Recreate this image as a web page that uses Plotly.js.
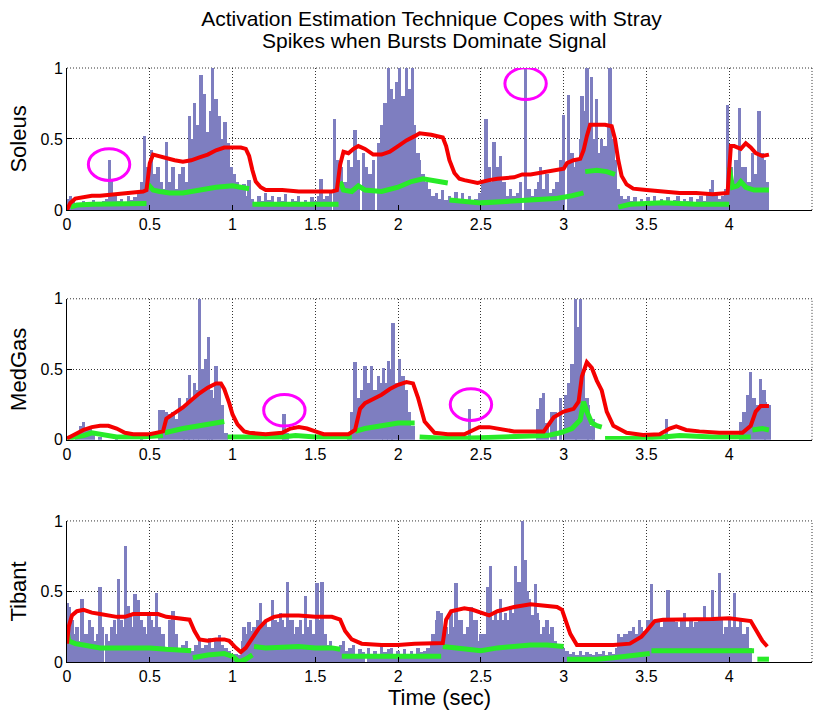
<!DOCTYPE html>
<html><head><meta charset="utf-8">
<script src="https://cdn.plot.ly/plotly-3.0.1.min.js"></script>
<style>html,body{margin:0;padding:0;background:#fff}#chart{width:823px;height:713px}</style>
</head><body><div id="chart"></div>
<script>
// ---------- DATA ----------
const titleLines = ['Activation Estimation Technique Copes with Stray', 'Spikes when Bursts Dominate Signal'];
const panelNames = ['Soleus', 'MedGas', 'Tibant'];
const xTitle = 'Time (sec)';
const xTicks = [0, 0.5, 1, 1.5, 2, 2.5, 3, 3.5, 4, 4.5];
const yTicks = [0, 0.5, 1];

// EMG spike bars [time, normalized amplitude]
const soleusBars = [[0.00,0.08],[0.02,0.1],[0.04,0.06],[0.06,0.05],[0.08,0.04],[0.10,0.06],[0.12,0.04],[0.14,0.05],[0.16,0.07],[0.18,0.04],[0.20,0.05],[0.22,0.06],[0.24,0.08],[0.255,0.35],[0.27,0.22],[0.29,0.1],[0.31,0.06],[0.33,0.08],[0.35,0.05],[0.37,0.1],[0.39,0.07],[0.41,0.09],[0.43,0.12],[0.45,0.2],[0.47,0.52],[0.49,0.3],[0.51,0.42],[0.53,0.25],[0.55,0.3],[0.57,0.2],[0.59,0.15],[0.60,0.48],[0.62,0.2],[0.64,0.3],[0.66,0.15],[0.68,0.25],[0.70,0.3],[0.72,0.2],[0.74,0.66],[0.76,0.5],[0.77,0.75],[0.79,0.6],[0.81,0.95],[0.83,0.82],[0.85,0.55],[0.87,0.7],[0.88,1.0],[0.90,0.78],[0.92,0.66],[0.94,0.5],[0.955,0.62],[0.975,0.47],[0.99,0.3],[1.01,0.25],[1.03,0.2],[1.05,0.15],[1.07,0.18],[1.09,0.1],[1.10,0.21],[1.12,0.08],[1.14,0.05],[1.16,0.1],[1.18,0.06],[1.20,0.12],[1.22,0.07],[1.24,0.1],[1.26,0.05],[1.28,0.09],[1.30,0.06],[1.32,0.11],[1.34,0.05],[1.36,0.08],[1.38,0.06],[1.40,0.1],[1.42,0.05],[1.44,0.07],[1.46,0.05],[1.48,0.09],[1.50,0.06],[1.52,0.1],[1.535,0.22],[1.55,0.08],[1.57,0.1],[1.59,0.12],[1.615,0.64],[1.63,0.35],[1.65,0.25],[1.66,0.3],[1.68,0.2],[1.70,0.35],[1.72,0.3],[1.74,0.56],[1.76,0.35],[1.79,0.4],[1.81,0.3],[1.83,0.25],[1.85,0.35],[1.88,0.47],[1.90,0.6],[1.92,0.75],[1.94,1.0],[1.96,0.85],[1.97,0.78],[1.99,0.9],[2.01,1.0],[2.03,0.8],[2.05,1.0],[2.07,0.85],[2.085,1.0],[2.10,0.6],[2.12,0.4],[2.13,0.35],[2.15,0.25],[2.17,0.2],[2.19,0.15],[2.21,0.1],[2.23,0.12],[2.25,0.08],[2.27,0.14],[2.29,0.07],[2.31,0.1],[2.33,0.06],[2.35,0.13],[2.37,0.08],[2.39,0.12],[2.41,0.06],[2.43,0.1],[2.45,0.05],[2.47,0.08],[2.49,0.12],[2.51,0.2],[2.53,0.64],[2.55,0.3],[2.57,0.2],[2.58,0.48],[2.60,0.3],[2.62,0.38],[2.64,0.2],[2.66,0.1],[2.68,0.15],[2.70,0.1],[2.72,0.12],[2.74,0.2],[2.77,1.0],[2.79,0.15],[2.81,0.1],[2.83,0.15],[2.85,0.2],[2.86,0.3],[2.88,0.15],[2.90,0.25],[2.92,0.12],[2.94,0.15],[2.96,0.2],[2.98,0.35],[3.00,0.67],[3.03,0.81],[3.05,0.4],[3.07,0.3],[3.08,0.35],[3.10,0.5],[3.11,0.8],[3.13,0.7],[3.14,1.0],[3.16,0.6],[3.17,0.94],[3.19,0.5],[3.20,0.78],[3.22,0.4],[3.23,0.5],[3.25,0.45],[3.27,0.6],[3.28,1.0],[3.30,0.5],[3.31,0.35],[3.33,0.15],[3.35,0.1],[3.37,0.08],[3.39,0.1],[3.41,0.06],[3.43,0.09],[3.45,0.05],[3.47,0.08],[3.49,0.05],[3.51,0.09],[3.53,0.06],[3.55,0.1],[3.57,0.05],[3.59,0.08],[3.61,0.06],[3.63,0.09],[3.65,0.05],[3.67,0.07],[3.69,0.1],[3.71,0.05],[3.73,0.08],[3.75,0.06],[3.77,0.09],[3.79,0.05],[3.81,0.08],[3.83,0.1],[3.85,0.06],[3.87,0.12],[3.89,0.15],[3.90,0.21],[3.92,0.12],[3.94,0.08],[3.96,0.1],[3.98,0.15],[3.99,0.74],[4.01,0.3],[4.02,0.2],[4.04,0.35],[4.06,0.72],[4.08,0.3],[4.10,0.3],[4.12,0.2],[4.14,0.4],[4.16,0.25],[4.18,0.7],[4.20,0.4],[4.21,0.35],[4.23,0.2]];

const medgasBars = [[0.06,0.05],[0.08,0.1],[0.10,0.13],[0.12,0.08],[0.14,0.1],[0.16,0.04],[0.20,0.02],[0.30,0.01],[0.45,0.02],[0.56,0.21],[0.58,0.21],[0.60,0.2],[0.62,0.18],[0.64,0.2],[0.66,0.15],[0.68,0.3],[0.70,0.22],[0.71,0.25],[0.73,0.3],[0.74,0.46],[0.76,0.3],[0.77,0.4],[0.79,0.35],[0.80,1.0],[0.82,0.5],[0.84,0.57],[0.855,0.73],[0.87,0.35],[0.88,0.3],[0.90,0.52],[0.92,0.4],[0.94,0.25],[0.96,0.05],[1.31,0.18],[1.33,0.05],[1.70,0.05],[1.72,0.2],[1.74,0.55],[1.76,0.3],[1.78,0.35],[1.80,0.52],[1.82,0.4],[1.84,0.52],[1.86,0.35],[1.88,0.45],[1.90,0.4],[1.91,0.51],[1.93,0.4],[1.94,0.56],[1.96,0.5],[1.97,0.83],[1.99,0.4],[2.01,0.57],[2.03,0.45],[2.05,0.35],[2.07,0.2],[2.09,0.1],[2.43,0.22],[2.84,0.22],[2.86,0.3],[2.88,0.33],[2.90,0.12],[2.93,0.2],[2.95,0.2],[2.98,0.3],[3.01,0.32],[3.03,0.4],[3.05,0.54],[3.07,1.0],[3.08,0.8],[3.10,1.0],[3.12,0.5],[3.14,0.3],[3.15,0.25],[3.17,0.1],[3.18,0.15],[3.62,0.15],[4.07,0.13],[4.09,0.2],[4.11,0.32],[4.13,0.48],[4.15,0.3],[4.17,0.25],[4.19,0.43],[4.21,0.35],[4.22,0.27],[4.24,0.25]];

const tibantBars = [[0.0,0.42],[0.015,0.39],[0.03,0.3],[0.045,0.2],[0.06,0.25],[0.075,0.15],[0.09,0.45],[0.105,0.2],[0.12,0.2],[0.135,0.3],[0.155,0.25],[0.17,0.15],[0.185,0.2],[0.2,0.53],[0.215,0.25],[0.24,0.2],[0.255,0.15],[0.27,0.25],[0.285,0.3],[0.3,0.2],[0.31,0.59],[0.33,0.3],[0.34,0.25],[0.355,0.82],[0.37,0.4],[0.38,0.35],[0.395,0.25],[0.41,0.48],[0.43,0.44],[0.45,0.3],[0.465,0.25],[0.48,0.2],[0.495,0.35],[0.51,0.3],[0.525,0.25],[0.54,0.49],[0.56,0.25],[0.58,0.2],[0.6,0.1],[0.62,0.3],[0.64,0.36],[0.66,0.2],[0.68,0.1],[0.7,0.12],[0.72,0.15],[0.74,0.1],[0.76,0.08],[0.78,0.12],[0.8,0.15],[0.82,0.1],[0.84,0.12],[0.86,0.17],[0.88,0.1],[0.9,0.15],[0.92,0.19],[0.94,0.12],[0.96,0.1],[0.98,0.08],[1.0,0.05],[1.02,0.06],[1.04,0.05],[1.06,0.15],[1.07,0.25],[1.09,0.2],[1.1,0.28],[1.12,0.22],[1.13,0.25],[1.15,0.3],[1.17,0.42],[1.19,0.28],[1.2,0.3],[1.22,0.25],[1.24,0.44],[1.26,0.3],[1.27,0.28],[1.29,0.35],[1.3,0.3],[1.32,0.25],[1.33,0.57],[1.35,0.3],[1.36,0.3],[1.38,0.2],[1.39,0.25],[1.41,0.3],[1.42,0.2],[1.44,0.47],[1.46,0.25],[1.47,0.3],[1.49,0.2],[1.51,0.56],[1.53,0.3],[1.54,0.57],[1.56,0.2],[1.58,0.12],[1.59,0.15],[1.61,0.1],[1.63,0.08],[1.65,0.12],[1.67,0.15],[1.69,0.08],[1.71,0.1],[1.73,0.12],[1.75,0.06],[1.77,0.09],[1.79,0.07],[1.82,0.1],[1.84,0.06],[1.86,0.08],[1.88,0.06],[1.9,0.12],[1.92,0.07],[1.94,0.09],[1.96,0.1],[1.98,0.06],[2.0,0.08],[2.02,0.06],[2.04,0.09],[2.06,0.05],[2.08,0.08],[2.1,0.06],[2.12,0.1],[2.14,0.07],[2.16,0.08],[2.18,0.1],[2.2,0.12],[2.21,0.2],[2.23,0.3],[2.24,0.36],[2.26,0.35],[2.27,0.2],[2.29,0.25],[2.3,0.2],[2.32,0.35],[2.33,0.25],[2.35,0.56],[2.36,0.3],[2.38,0.3],[2.39,0.2],[2.41,0.2],[2.42,0.25],[2.44,0.39],[2.45,0.3],[2.47,0.3],[2.49,0.15],[2.5,0.2],[2.52,0.2],[2.54,0.53],[2.56,0.68],[2.57,0.3],[2.59,0.35],[2.6,0.3],[2.62,0.45],[2.63,0.3],[2.65,0.35],[2.66,0.3],[2.68,0.4],[2.69,0.35],[2.71,0.68],[2.73,0.57],[2.74,0.45],[2.75,1.0],[2.77,0.72],[2.78,0.5],[2.79,0.45],[2.81,0.33],[2.83,0.55],[2.84,0.35],[2.85,0.3],[2.87,0.2],[2.88,0.25],[2.9,0.3],[2.92,0.2],[2.93,0.25],[2.95,0.15],[2.96,0.1],[2.98,0.12],[3.0,0.1],[3.02,0.08],[3.04,0.06],[3.06,0.07],[3.08,0.05],[3.1,0.08],[3.12,0.05],[3.14,0.07],[3.16,0.06],[3.18,0.05],[3.2,0.07],[3.22,0.06],[3.24,0.08],[3.26,0.05],[3.28,0.07],[3.3,0.06],[3.32,0.1],[3.33,0.2],[3.35,0.18],[3.37,0.2],[3.38,0.2],[3.4,0.22],[3.42,0.25],[3.44,0.2],[3.46,0.3],[3.47,0.25],[3.49,0.22],[3.51,0.3],[3.53,0.55],[3.55,0.3],[3.57,0.3],[3.59,0.25],[3.61,0.3],[3.63,0.51],[3.65,0.3],[3.66,0.3],[3.68,0.28],[3.69,0.25],[3.71,0.3],[3.73,0.35],[3.75,0.25],[3.77,0.3],[3.79,0.25],[3.8,0.28],[3.82,0.3],[3.84,0.3],[3.85,0.4],[3.87,0.3],[3.88,0.3],[3.9,0.51],[3.92,0.3],[3.94,0.63],[3.95,0.3],[3.97,0.2],[3.98,0.25],[4.0,0.3],[4.01,0.25],[4.03,0.49],[4.05,0.25],[4.07,0.3],[4.08,0.2],[4.1,0.2],[4.11,0.25],[4.13,0.1]];

// Activation estimate (red) [time, value]
const soleusRed = [[0,0],[0.02,0.05],[0.05,0.08],[0.1,0.09],[0.15,0.1],[0.2,0.1],[0.3,0.11],[0.4,0.12],[0.46,0.13],[0.48,0.14],[0.5,0.33],[0.52,0.39],[0.55,0.38],[0.6,0.37],[0.65,0.35],[0.7,0.34],[0.75,0.35],[0.8,0.37],[0.85,0.39],[0.9,0.42],[0.95,0.44],[1.0,0.44],[1.05,0.44],[1.08,0.43],[1.1,0.38],[1.12,0.28],[1.14,0.2],[1.17,0.16],[1.2,0.14],[1.3,0.14],[1.4,0.13],[1.5,0.13],[1.6,0.13],[1.63,0.14],[1.65,0.32],[1.67,0.41],[1.7,0.4],[1.73,0.43],[1.76,0.45],[1.8,0.43],[1.85,0.39],[1.9,0.39],[1.95,0.41],[2.0,0.45],[2.05,0.49],[2.1,0.52],[2.13,0.54],[2.2,0.53],[2.27,0.51],[2.29,0.45],[2.31,0.35],[2.34,0.26],[2.37,0.22],[2.4,0.21],[2.45,0.2],[2.48,0.19],[2.55,0.21],[2.6,0.22],[2.7,0.23],[2.75,0.25],[2.8,0.25],[2.85,0.26],[2.9,0.27],[2.96,0.28],[3.0,0.29],[3.02,0.33],[3.06,0.35],[3.1,0.36],[3.12,0.42],[3.14,0.52],[3.16,0.6],[3.2,0.6],[3.25,0.6],[3.29,0.59],[3.31,0.5],[3.33,0.35],[3.35,0.24],[3.38,0.18],[3.42,0.15],[3.5,0.14],[3.6,0.13],[3.7,0.12],[3.8,0.12],[3.9,0.11],[3.99,0.12],[4.01,0.45],[4.03,0.45],[4.05,0.44],[4.07,0.43],[4.1,0.47],[4.13,0.44],[4.16,0.4],[4.2,0.38],[4.24,0.39]];
const medgasRed = [[0,0.01],[0.05,0.04],[0.1,0.07],[0.15,0.09],[0.2,0.1],[0.25,0.1],[0.3,0.08],[0.35,0.05],[0.4,0.04],[0.5,0.04],[0.55,0.05],[0.58,0.06],[0.6,0.15],[0.65,0.19],[0.7,0.23],[0.75,0.28],[0.8,0.33],[0.85,0.37],[0.9,0.4],[0.93,0.4],[0.95,0.36],[0.98,0.26],[1.0,0.18],[1.03,0.11],[1.07,0.06],[1.1,0.05],[1.2,0.04],[1.3,0.05],[1.35,0.08],[1.4,0.09],[1.45,0.08],[1.5,0.06],[1.55,0.04],[1.7,0.04],[1.74,0.07],[1.77,0.22],[1.8,0.26],[1.85,0.29],[1.9,0.32],[1.95,0.36],[2.0,0.39],[2.05,0.41],[2.09,0.4],[2.12,0.3],[2.16,0.13],[2.22,0.05],[2.3,0.04],[2.4,0.04],[2.44,0.06],[2.49,0.09],[2.55,0.09],[2.6,0.08],[2.7,0.06],[2.88,0.06],[2.94,0.16],[3.0,0.2],[3.06,0.22],[3.09,0.27],[3.11,0.45],[3.14,0.55],[3.17,0.51],[3.2,0.42],[3.23,0.35],[3.26,0.2],[3.3,0.1],[3.38,0.05],[3.48,0.035],[3.58,0.04],[3.64,0.08],[3.68,0.095],[3.74,0.07],[3.82,0.06],[3.94,0.05],[4.08,0.05],[4.13,0.1],[4.16,0.2],[4.19,0.24],[4.24,0.24]];
const tibantRed = [[0,0.13],[0.01,0.25],[0.03,0.33],[0.06,0.36],[0.1,0.37],[0.15,0.35],[0.2,0.34],[0.3,0.32],[0.35,0.32],[0.4,0.34],[0.5,0.34],[0.55,0.34],[0.6,0.32],[0.7,0.31],[0.74,0.3],[0.77,0.22],[0.8,0.16],[0.85,0.15],[0.9,0.16],[0.95,0.16],[0.98,0.15],[1.02,0.1],[1.05,0.07],[1.08,0.1],[1.12,0.17],[1.16,0.24],[1.2,0.29],[1.25,0.32],[1.3,0.33],[1.35,0.33],[1.4,0.33],[1.5,0.32],[1.6,0.32],[1.65,0.3],[1.68,0.22],[1.72,0.16],[1.78,0.13],[1.9,0.12],[2.0,0.12],[2.1,0.13],[2.2,0.13],[2.27,0.135],[2.29,0.3],[2.32,0.36],[2.4,0.38],[2.45,0.37],[2.5,0.35],[2.55,0.33],[2.6,0.36],[2.7,0.39],[2.8,0.41],[2.9,0.4],[2.96,0.39],[2.99,0.37],[3.01,0.3],[3.04,0.2],[3.08,0.12],[3.2,0.12],[3.3,0.12],[3.4,0.13],[3.47,0.18],[3.5,0.22],[3.55,0.29],[3.6,0.3],[3.7,0.3],[3.8,0.3],[3.9,0.305],[4.0,0.31],[4.1,0.3],[4.13,0.29],[4.16,0.23],[4.2,0.15],[4.23,0.11]];

// Second estimate (green), separate segments
const soleusGreen = [
  [[0.02,0.02],[0.06,0.035],[0.15,0.04],[0.3,0.04],[0.4,0.042],[0.48,0.045]],
  [[0.49,0.18],[0.52,0.14],[0.56,0.13],[0.62,0.12],[0.7,0.12],[0.8,0.14],[0.9,0.16],[1.0,0.17],[1.05,0.16],[1.1,0.15]],
  [[1.12,0.04],[1.3,0.04],[1.5,0.04],[1.64,0.04]],
  [[1.65,0.2],[1.67,0.14],[1.72,0.13],[1.76,0.17],[1.8,0.14],[1.9,0.13],[2.0,0.16],[2.08,0.2],[2.15,0.22],[2.22,0.21],[2.3,0.19]],
  [[2.31,0.07],[2.4,0.06],[2.5,0.05],[2.65,0.06],[2.8,0.07],[2.95,0.08],[3.05,0.1],[3.12,0.12]],
  [[3.13,0.27],[3.2,0.28],[3.26,0.27],[3.31,0.25]],
  [[3.33,0.02],[3.4,0.04],[3.6,0.05],[3.8,0.04],[4.0,0.04]],
  [[4.0,0.3],[4.02,0.16],[4.05,0.17],[4.07,0.2],[4.1,0.16],[4.15,0.14],[4.24,0.14]]
];
const medgasGreen = [
  [[0,0.01],[0.1,0.03],[0.15,0.05],[0.2,0.04],[0.3,0.02],[0.45,0.02],[0.58,0.03]],
  [[0.59,0.05],[0.65,0.07],[0.7,0.08],[0.8,0.1],[0.9,0.12],[0.95,0.13]],
  [[0.97,0.02],[1.1,0.02],[1.3,0.02],[1.38,0.03],[1.5,0.02],[1.72,0.02]],
  [[1.74,0.06],[1.8,0.08],[1.9,0.1],[2.0,0.12],[2.1,0.12]],
  [[2.13,0.02],[2.3,0.01],[2.5,0.015],[2.7,0.02],[2.9,0.03],[2.98,0.05],[3.05,0.08],[3.1,0.14],[3.12,0.27],[3.14,0.2],[3.17,0.12],[3.2,0.1],[3.23,0.09]],
  [[3.25,0.01],[3.4,0.01],[3.6,0.02],[3.7,0.03],[3.9,0.02],[4.13,0.02]],
  [[4.14,0.07],[4.2,0.08],[4.24,0.07]]
];
const tibantGreen = [
  [[0,0.22],[0.01,0.15],[0.03,0.14],[0.05,0.13],[0.1,0.12],[0.2,0.1],[0.3,0.1],[0.4,0.1],[0.5,0.1],[0.6,0.09],[0.7,0.08],[0.75,0.08]],
  [[0.76,0.03],[0.85,0.05],[0.95,0.06],[1.0,0.04],[1.04,0.0],[1.08,0.02],[1.12,0.05]],
  [[1.13,0.11],[1.2,0.1],[1.4,0.11],[1.5,0.1],[1.6,0.1],[1.65,0.09]],
  [[1.66,0.04],[1.9,0.04],[2.1,0.04],[2.26,0.04]],
  [[2.27,0.11],[2.4,0.09],[2.5,0.08],[2.6,0.1],[2.7,0.11],[2.8,0.12],[2.9,0.12],[3.0,0.11]],
  [[3.02,0.02],[3.2,0.02],[3.3,0.03],[3.45,0.05],[3.52,0.06]],
  [[3.53,0.08],[3.7,0.08],[3.9,0.08],[4.1,0.08],[4.15,0.08]],
  [[4.17,0.02],[4.24,0.02]]
];

// Highlight circles around stray spikes: panel, time, value
const circlePanel = [1, 1, 2, 2];
const circleT = [0.254, 2.77, 1.313, 2.44];
const circleV = [0.32, 0.89, 0.21, 0.25];

// ---------- BUILD ----------
const barColor = 'rgb(126,126,192)';
const redColor = 'rgb(245,0,0)';
const greenColor = 'rgb(40,235,40)';
const FONT = 'Liberation Sans, Arial, sans-serif';
const DOTS = '1px,2px';

function pairs(p){ return [p.map(d=>d[0]), p.map(d=>d[1])]; }
function segs(s){ const xs=[], ys=[]; s.forEach((seg,i)=>{ if(i){xs.push(null);ys.push(null);} seg.forEach(d=>{xs.push(d[0]);ys.push(d[1]);}); }); return [xs,ys]; }

const bars = [soleusBars, medgasBars, tibantBars];
const reds = [soleusRed, medgasRed, tibantRed];
const greens = [soleusGreen, medgasGreen, tibantGreen];

const traces = [];
for (let i=0;i<3;i++){
  const xa = i===0?'x':'x'+(i+1), ya = i===0?'y':'y'+(i+1);
  const [bx,by] = pairs(bars[i]);
  traces.push({type:'bar', x:bx, y:by, xaxis:xa, yaxis:ya, width:0.02, marker:{color:barColor, line:{width:0}}, hoverinfo:'skip', showlegend:false});
  const [gx,gy] = segs(greens[i]);
  traces.push({type:'scatter', mode:'lines', x:gx, y:gy, xaxis:xa, yaxis:ya, line:{color:greenColor, width:5}, connectgaps:false, hoverinfo:'skip', showlegend:false});
  const [rx,ry] = pairs(reds[i]);
  traces.push({type:'scatter', mode:'lines', x:rx, y:ry, xaxis:xa, yaxis:ya, line:{color:redColor, width:4}, hoverinfo:'skip', showlegend:false});
}

const domains = [[0.761,1],[0.374,0.6115],[0,0.2375]];
const layout = {
  width:823, height:713,
  margin:{l:67, r:11, t:68, b:51},
  paper_bgcolor:'#fff', plot_bgcolor:'#fff',
  bargap:0, barmode:'overlay',
  font:{family:FONT, color:'#000'},
  title:{text:titleLines[0], font:{family:FONT, size:21, color:'#000'}, xref:'container', x:0.5243, xanchor:'center', yref:'container', y:0.9734, yanchor:'middle'},
  annotations:[{text:titleLines[1], xref:'paper', yref:'paper', x:0.492, y:1.0455, xanchor:'center', yanchor:'middle', showarrow:false, font:{family:FONT, size:21, color:'#000'}}],
  shapes:[]
};
for (let i=0;i<3;i++){
  const sx = i===0?'':String(i+1);
  layout['xaxis'+sx] = {
    domain:[0,1], anchor:'y'+sx, range:[0,4.5], tickvals:xTicks, ticktext:xTicks.map(String),
    showgrid:true, gridcolor:'#333', griddash:DOTS, gridwidth:1,
    showline:true, linecolor:'#000', linewidth:1, ticks:'inside', ticklen:5, tickcolor:'#000',
    zeroline:false, tickfont:{family:FONT, size:16, color:'#000'}, fixedrange:true,
    title: i===2 ? {text:xTitle, font:{family:FONT, size:22, color:'#000'}, standoff:4} : {text:''}
  };
  layout['yaxis'+sx] = {
    domain:domains[i], anchor:'x'+sx, range:[0,1], tickvals:yTicks, ticktext:yTicks.map(String),
    showgrid:true, gridcolor:'#333', griddash:DOTS, gridwidth:1,
    showline:true, linecolor:'#000', linewidth:1, ticks:'inside', ticklen:5, tickcolor:'#000',
    zeroline:false, tickfont:{family:FONT, size:16, color:'#000'}, fixedrange:true,
    title:{text:panelNames[i], font:{family:FONT, size:22, color:'#000'}, standoff:7}
  };
  // dotted frame on the top and right edges (MATLAB-style open box with grid)
  layout.shapes.push({type:'line', xref:'x'+sx+' domain', yref:'y'+sx+' domain', x0:0, x1:1, y0:1, y1:1, line:{color:'#333', width:1, dash:DOTS}, layer:'below'});
  layout.shapes.push({type:'line', xref:'x'+sx+' domain', yref:'y'+sx+' domain', x0:1, x1:1, y0:0, y1:1, line:{color:'#333', width:1, dash:DOTS}, layer:'below'});
}
const cw = 0.125, ch = 0.112;
for (let k=0;k<circleT.length;k++){
  const sx = circlePanel[k]===1?'':String(circlePanel[k]);
  layout.shapes.push({type:'circle', xref:'x'+sx, yref:'y'+sx, x0:circleT[k]-cw, x1:circleT[k]+cw, y0:circleV[k]-ch, y1:circleV[k]+ch, line:{color:'#ff00ff', width:3}, layer:'above'});
}
Plotly.newPlot('chart', traces, layout, {staticPlot:true, displayModeBar:false});
</script></body></html>
